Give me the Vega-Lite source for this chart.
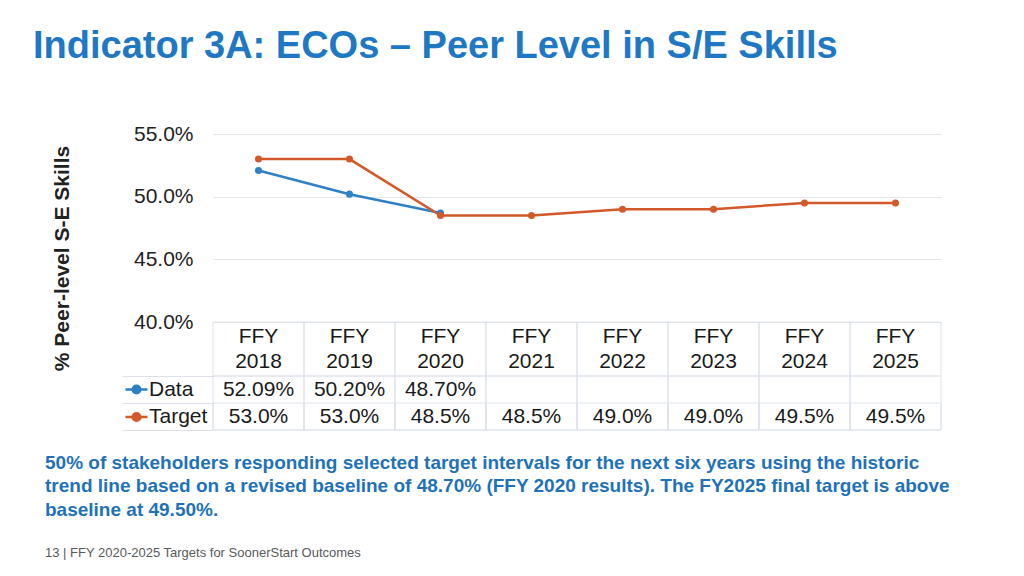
{
  "$schema": "https://vega.github.io/schema/vega-lite/v6.json",
  "background": "white",
  "autosize": {"type": "pad"},
  "padding": {"left": 33, "top": 28, "right": 0, "bottom": 0},
  "config": {"view": {"stroke": null}, "font": "Liberation Sans"},
  "data": {"values": [
    {"year": "FFY 2018", "series": "Data", "value": 0.5209},
    {"year": "FFY 2019", "series": "Data", "value": 0.502},
    {"year": "FFY 2020", "series": "Data", "value": 0.487},
    {"year": "FFY 2018", "series": "Target", "value": 0.53},
    {"year": "FFY 2019", "series": "Target", "value": 0.53},
    {"year": "FFY 2020", "series": "Target", "value": 0.485},
    {"year": "FFY 2021", "series": "Target", "value": 0.485},
    {"year": "FFY 2022", "series": "Target", "value": 0.49},
    {"year": "FFY 2023", "series": "Target", "value": 0.49},
    {"year": "FFY 2024", "series": "Target", "value": 0.495},
    {"year": "FFY 2025", "series": "Target", "value": 0.495}
  ]},
  "bounds": "flush",
  "spacing": 0,
  "resolve": {"scale": {"x": "independent", "y": "independent"}},
  "vconcat": [
    {
      "title": {"text": "Indicator 3A: ECOs – Peer Level in S/E Skills", "orient": "top", "anchor": "start", "frame": "group", "font": "Liberation Sans", "fontSize": 38, "fontWeight": "bold", "color": "#1f78c4", "dx": -180, "offset": 57},
      "width": 728,
      "height": 188,
      "mark": {"type": "line", "strokeWidth": 2.5, "point": {"filled": true, "size": 50}},
      "encoding": {
        "x": {"field": "year", "type": "nominal", "scale": {"type": "point", "domain": ["FFY 2018", "FFY 2019", "FFY 2020", "FFY 2021", "FFY 2022", "FFY 2023", "FFY 2024", "FFY 2025"], "padding": 0.5}, "axis": null},
        "y": {"field": "value", "type": "quantitative", "scale": {"domain": [0.40, 0.55], "nice": false, "zero": false},
          "axis": {"values": [0.40, 0.45, 0.50, 0.55], "format": ".1%", "grid": true, "gridColor": "#e3e6eb", "ticks": false, "domain": false, "labelPadding": 20, "labelFontSize": 21, "labelColor": "#222222", "labelFont": "Liberation Sans",
            "title": "% Peer-level S-E Skills", "titleFont": "Liberation Sans", "titleFontSize": 21, "titleFontWeight": "bold", "titleColor": "#222222", "titleX": -151, "titleY": 124, "titleAngle": -90, "titleAlign": "center", "titleBaseline": "middle"}},
        "color": {"field": "series", "type": "nominal", "scale": {"domain": ["Data", "Target"], "range": ["#2f80c5", "#d2592a"]},
          "legend": {"orient": "none", "legendX": -89, "legendY": 243, "title": null, "padding": 0, "rowPadding": 4.5, "labelFontSize": 21, "labelFont": "Liberation Sans", "labelColor": "#1a1a1a", "labelOffset": 0, "symbolType": "M-1,0L1,0M0.35,0A0.35,0.35,0,1,1,-0.35,0A0.35,0.35,0,1,1,0.35,0Z", "symbolSize": 484, "symbolStrokeWidth": 2.5,
            "encode": {"symbols": {"update": {"fill": {"scale": "color", "field": "value"}, "stroke": {"scale": "color", "field": "value"}}}}}}
      }
    },
    {
      "width": 728,
      "height": 54,
      "transform": [{"filter": "datum.series === 'Target'"}],
      "layer": [
        {
          "mark": {"type": "rect", "fill": "transparent", "stroke": "#dde2ea", "strokeWidth": 1},
          "encoding": {
            "x": {"field": "year", "type": "nominal", "scale": {"type": "band", "domain": ["FFY 2018", "FFY 2019", "FFY 2020", "FFY 2021", "FFY 2022", "FFY 2023", "FFY 2024", "FFY 2025"], "paddingInner": 0, "paddingOuter": 0}, "axis": null}
          }
        },
        {
          "mark": {"type": "text", "fontSize": 21, "color": "#1a1a1a", "baseline": "middle", "align": "center", "lineBreak": " ", "lineHeight": 25, "dy": -12.5},
          "encoding": {
            "x": {"field": "year", "type": "nominal"},
            "text": {"field": "year"}
          }
        }
      ]
    },
    {
      "title": {"text": ["50% of stakeholders responding selected target intervals for the next six years using the historic", "trend line based on a revised baseline of 48.70% (FFY 2020 results). The FY2025 final target is above", "baseline at 49.50%."], "orient": "bottom", "anchor": "start", "frame": "group", "font": "Liberation Sans", "fontSize": 19, "fontWeight": "bold", "color": "#1f72b8", "lineHeight": 23.5, "dx": -168, "offset": 23,
        "subtitle": "13  |  FFY 2020-2025 Targets for SoonerStart Outcomes", "subtitleFont": "Liberation Sans", "subtitleFontSize": 13, "subtitleFontWeight": "normal", "subtitleColor": "#595959", "subtitlePadding": 27},
      "width": 728,
      "height": 54,
      "layer": [
        {
          "transform": [{"filter": "datum.series === 'Target'"}],
          "mark": {"type": "rect", "fill": "transparent", "stroke": "#dde2ea", "strokeWidth": 1},
          "encoding": {
            "x": {"field": "year", "type": "nominal", "scale": {"type": "band", "domain": ["FFY 2018", "FFY 2019", "FFY 2020", "FFY 2021", "FFY 2022", "FFY 2023", "FFY 2024", "FFY 2025"], "paddingInner": 0, "paddingOuter": 0}, "axis": null}
          }
        },
        {
          "transform": [{"filter": "datum.series === 'Target'"}],
          "mark": {"type": "rect", "fill": "transparent", "stroke": "#dde2ea", "strokeWidth": 1},
          "encoding": {
            "x": {"field": "year", "type": "nominal"},
            "y": {"field": "series", "type": "nominal", "scale": {"type": "band", "domain": ["Data", "Target"], "paddingInner": 0, "paddingOuter": 0},
              "axis": {"labels": false, "ticks": true, "tickBand": "extent", "tickSize": 91, "tickColor": "#dde2ea", "domain": false, "grid": false, "title": null}}
          }
        },
        {
          "transform": [{"filter": "datum.series === 'Data'"}],
          "mark": {"type": "text", "fontSize": 21, "color": "#1a1a1a", "baseline": "middle", "align": "center"},
          "encoding": {
            "x": {"field": "year", "type": "nominal"},
            "y": {"field": "series", "type": "nominal"},
            "text": {"field": "value", "type": "quantitative", "format": ".2%"}
          }
        },
        {
          "transform": [{"filter": "datum.series === 'Target'"}],
          "mark": {"type": "text", "fontSize": 21, "color": "#1a1a1a", "baseline": "middle", "align": "center"},
          "encoding": {
            "x": {"field": "year", "type": "nominal"},
            "y": {"field": "series", "type": "nominal"},
            "text": {"field": "value", "type": "quantitative", "format": ".1%"}
          }
        }
      ]
    }
  ]
}
